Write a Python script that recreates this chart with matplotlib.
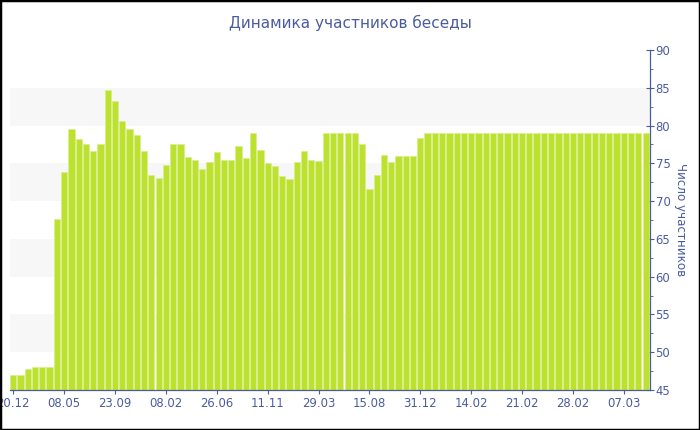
import numpy as np
import matplotlib
matplotlib.use("Agg")
import matplotlib.pyplot as plt
from matplotlib.patches import Rectangle
from matplotlib.ticker import MultipleLocator

# participants per period
members = [
    47.0, 47.0, 47.8, 48.0, 48.0, 48.0, 67.6, 73.9, 79.5, 78.2,
    77.6, 76.6, 77.5, 84.7, 83.2, 80.6, 79.5, 78.7, 76.6, 73.4,
    73.0, 74.8, 77.6, 77.6, 75.9, 75.5, 74.2, 75.2, 76.5, 75.4,
    75.5, 77.3, 75.7, 79.0, 76.7, 75.0, 74.6, 73.3, 72.9, 75.2,
    76.6, 75.4, 75.3, 79.0, 79.0, 79.0, 79.0, 79.0, 77.6, 71.6,
    73.5, 76.1, 75.2, 76.0, 76.0, 76.0, 78.4, 79.0, 79.0, 79.0,
    79.0, 79.0, 79.0, 79.0, 79.0, 79.0, 79.0, 79.0, 79.0, 79.0,
    79.0, 79.0, 79.0, 79.0, 79.0, 79.0, 79.0, 79.0, 79.0, 79.0,
    79.0, 79.0, 79.0, 79.0, 79.0, 79.0, 79.0, 79.0,
]
tick_labels = ["20.12", "08.05", "23.09", "08.02", "26.06", "11.11", "29.03",
               "15.08", "31.12", "14.02", "21.02", "28.02", "07.03"]
tick_step = 7
bands = [(50, 55), (60, 65), (70, 75), (80, 85)]

TXT = "#4a5c9e"
BAR = "#bde12f"

fig = plt.figure(figsize=(7, 4.3), dpi=100)
ax = fig.add_axes([10 / 700, 40 / 430, 640 / 700, 340 / 430])

x = np.arange(len(members))
for lo, hi in bands:
    ax.axhspan(lo, hi, color="#f7f7f7", zorder=0, lw=0)
ax.bar(x, np.array(members) - 45, bottom=45, width=0.86, color=BAR,
       edgecolor="#d9ee8c", linewidth=0.5, zorder=2)

ax.set_xlim(-0.45, len(members) - 0.4)
ax.set_ylim(45, 90)
ax.set_xticks(x[::tick_step])
ax.set_xticklabels(tick_labels)

ax.yaxis.tick_right()
ax.yaxis.set_label_position("right")
ax.yaxis.set_major_locator(MultipleLocator(5))
ax.yaxis.set_minor_locator(MultipleLocator(2.5))
ax.set_ylabel("Число участников", rotation=-90, color=TXT, fontsize=8.6,
              labelpad=12)

for s in ["left", "top"]:
    ax.spines[s].set_visible(False)
for s in ["right", "bottom"]:
    ax.spines[s].set_color(TXT)
    ax.spines[s].set_linewidth(0.9)

ax.tick_params(axis="x", colors=TXT, labelsize=8.4, length=3, pad=2)
ax.tick_params(axis="y", which="major", colors=TXT, labelsize=8.4,
               direction="inout", length=6, pad=1)
ax.tick_params(axis="y", which="minor", colors=TXT, direction="out", length=2)

fig.text(350 / 700, 1 - 23 / 430, "Динамика участников беседы", color=TXT,
         ha="center", va="center", fontsize=11,
         family=["Liberation Sans Narrow", "DejaVu Sans"])

fig.patches.append(Rectangle((0, 0), 1, 1, transform=fig.transFigure,
                             fill=False, edgecolor="black", linewidth=2.5))

fig.savefig("out.png", dpi=100)
